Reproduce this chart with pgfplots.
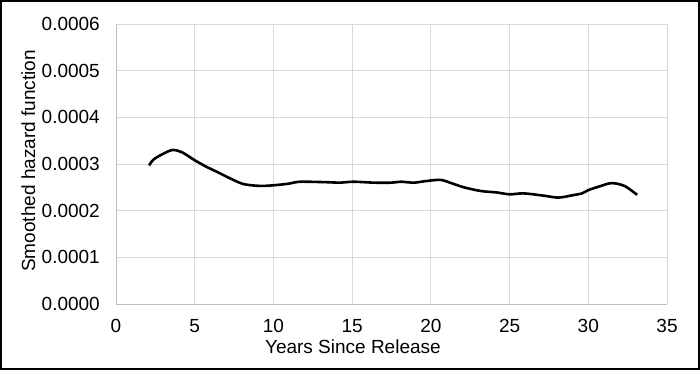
\documentclass[border=0pt]{standalone}
\usepackage{pgfplots}
\pgfplotsset{compat=1.18}
\usepackage{fontspec}
\setmainfont{Liberation Sans}
\definecolor{gridc}{HTML}{D9D9D9}
\definecolor{axisc}{HTML}{BFBFBF}
\begin{document}
\begin{tikzpicture}
\useasboundingbox (0,0) rectangle (700bp,370bp);
\draw[black, line width=2bp] (1bp,1bp) rectangle (699bp,369bp);
\begin{axis}[
  at={(116bp,66bp)}, anchor=south west,
  scale only axis, width=551bp, height=280bp,
  xmin=0, xmax=35, ymin=0, ymax=0.0006,
  xtick={0,5,...,35},
  ytick={0,0.0001,0.0002,0.0003,0.0004,0.0005,0.0006},
  scaled y ticks=false,
  axis x line*=bottom, axis y line*=left,
  axis line style={axisc, line width=0.8bp, -},
  major tick length=0pt,
  grid=major,
  major grid style={gridc, line width=0.8bp},
  font=\fontsize{19bp}{22bp}\selectfont,
  every tick label/.append style={inner sep=0pt, font=\fontsize{19bp}{22bp}\selectfont},
  yticklabel style={/pgf/number format/.cd, fixed, fixed zerofill, precision=4, assume math mode=true},
  xticklabel style={/pgf/number format/assume math mode=true},
  xticklabel shift=15bp,
  yticklabel shift=16bp,
  xlabel={Years Since Release},
  ylabel={Smoothed hazard function},
  xlabel style={at={(axis description cs:0.43,-0.177)}, anchor=base, inner sep=0pt},
  ylabel style={at={(axis description cs:-0.147,0.511)}, anchor=base, inner sep=0pt},
  clip=false,
]
\addplot[black, line width=2.6bp, smooth, tension=0.5] coordinates {
(2.1,0.000297)
(2.4,0.000310)
(3.0,0.000322)
(3.6,0.000330)
(4.2,0.000325)
(5.0,0.000308)
(5.8,0.000293)
(6.3,0.000285)
(7.2,0.000270)
(8.1,0.000257)
(9.2,0.000253)
(10.2,0.000255)
(11.0,0.000258)
(11.7,0.000262)
(13.4,0.000261)
(14.2,0.000260)
(15.1,0.000262)
(16.4,0.000260)
(17.5,0.000260)
(18.1,0.000262)
(18.9,0.000260)
(19.6,0.000263)
(20.6,0.000266)
(21.3,0.000259)
(22.1,0.000250)
(23.2,0.000242)
(24.2,0.000239)
(25.0,0.000235)
(25.9,0.000237)
(27.2,0.000232)
(28.1,0.000228)
(29.0,0.000233)
(29.6,0.000237)
(30.0,0.000244)
(30.8,0.000253)
(31.5,0.000259)
(32.3,0.000253)
(33.1,0.000234)
};
\end{axis}
\end{tikzpicture}
\end{document}
